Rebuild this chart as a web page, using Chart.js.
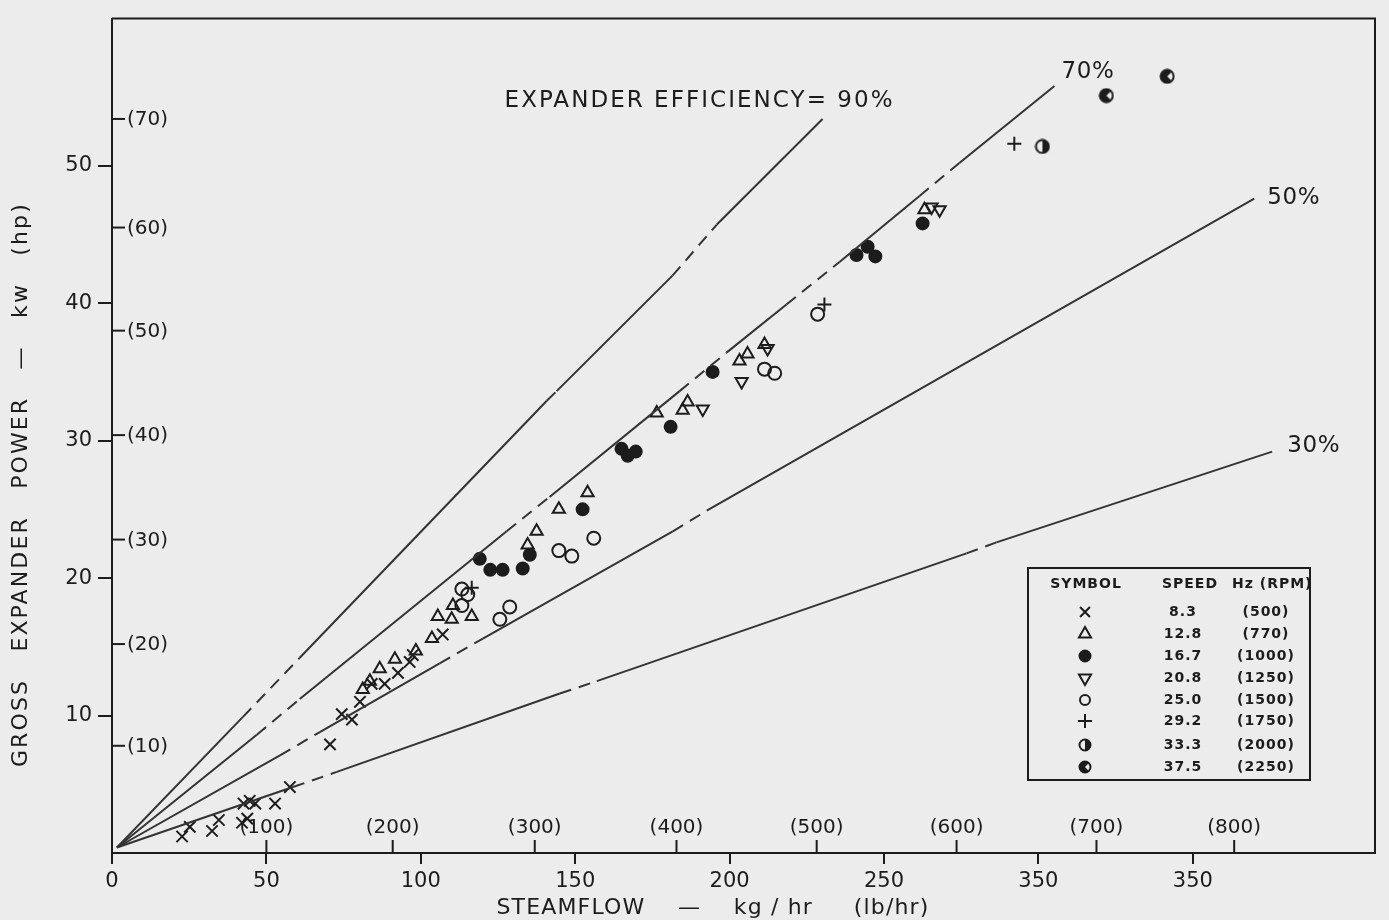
<!DOCTYPE html>
<html>
<head>
<meta charset="utf-8">
<title>Gross expander power vs steamflow</title>
<script src="https://cdn.jsdelivr.net/npm/chart.js@4.4.1/dist/chart.umd.min.js"></script>
<style>
  html, body { margin: 0; padding: 0; background: #ececec; }
  #wrap { width: 1389px; height: 920px; }
</style>
</head>
<body>
<div id="wrap"><canvas id="chart" width="1389" height="920"></canvas></div>
<script>
// --- valeurs ---
const kgTicks = [0, 50, 100, 150, 200, 250, 300, 350];
const kgTickLabels = ['0', '50', '100', '150', '200', '250', '350', '350']; // tel quel sur l'original
const kwTicks = [10, 20, 30, 40, 50];
const kwTickLabels = ['10', '20', '30', '40', '50'];
const hpTickLabels = ['(10)', '(20)', '(30)', '(40)', '(50)', '(60)', '(70)'];
const hpTickKw = [7.8, 15.2, 22.8, 30.4, 38.0, 45.5, 53.4];
const lbTickLabels = ['(100)', '(200)', '(300)', '(400)', '(500)', '(600)', '(700)', '(800)'];
const lbTickKg = [50, 90.9, 136.9, 182.8, 228.2, 273.5, 318.8, 363.4];

// droites de rendement (points de coupure des tirets)
const effNames = ['EXPANDER EFFICIENCY= 90%', '70%', '50%', '30%'];
const eff90 = [[1.6, 0.4], [42.4, 9.9], [60.8, 14.2], [140.8, 32.9], [144.0, 33.6], [181.5, 42.0], [195.8, 45.7], [230.1, 53.4]];
const eff70 = [[1.6, 0.4], [46.9, 8.6], [60.8, 11.2], [127.8, 23.4], [141.7, 25.9], [183.8, 33.6], [199.0, 36.4], [218.4, 39.9], [235.6, 43.0], [261.5, 47.8], [274.4, 50.2], [305.2, 55.8]];
const eff50 = [[1.6, 0.4], [54.4, 7.1], [67.3, 8.8], [106.1, 13.8], [120.1, 15.6], [181.6, 23.4], [192.6, 24.9], [369.9, 47.6]];
const eff30 = [[1.6, 0.4], [58.6, 4.8], [72.8, 5.9], [145.0, 11.6], [157.0, 12.5], [276.7, 21.8], [286.4, 22.6], [375.7, 29.2]];

// vitesses
const speedHz = ['8.3', '12.8', '16.7', '20.8', '25.0', '29.2', '33.3', '37.5'];
const speedRpm = ['(500)', '(770)', '(1000)', '(1250)', '(1500)', '(1750)', '(2000)', '(2250)'];

// mesures [steamflow kg/hr, puissance kW]
const pts83 = [[22.7, 1.2], [25.2, 1.9], [32.4, 1.6], [34.6, 2.4], [42.1, 2.2], [43.8, 2.5], [42.6, 3.6], [44.6, 3.8], [46.4, 3.6], [52.8, 3.6], [57.6, 4.8], [70.6, 7.9], [74.4, 10.1], [77.7, 9.7], [80.3, 11.0], [84.1, 12.3], [88.3, 12.3], [92.6, 13.1], [96.4, 13.9], [97.4, 14.4], [107.1, 15.9]];
const pts128 = [[81.2, 11.9], [83.5, 12.5], [86.7, 13.4], [91.6, 14.1], [98.4, 14.7], [103.6, 15.6], [105.5, 17.2], [110.0, 17.0], [110.4, 18.0], [116.5, 17.2], [134.6, 22.4], [137.5, 23.4], [144.7, 25.0], [154.0, 26.2], [176.4, 32.0], [184.8, 32.2], [186.4, 32.8], [203.2, 35.8], [205.8, 36.3], [211.3, 37.0], [263.1, 46.8]];
const pts167 = [[119.1, 21.4], [122.5, 20.6], [126.5, 20.6], [133.0, 20.7], [135.3, 21.7], [152.4, 25.0], [165.0, 29.4], [167.0, 28.9], [169.6, 29.2], [180.9, 31.0], [194.5, 35.0], [241.1, 43.5], [244.7, 44.1], [247.2, 43.4], [262.5, 45.8]];
const pts208 = [[191.3, 32.3], [203.9, 34.3], [212.3, 36.7], [265.4, 47.0], [268.0, 46.8]];
const pts250 = [[113.3, 19.2], [115.2, 18.8], [113.3, 18.0], [125.6, 17.0], [128.8, 17.9], [144.7, 22.0], [148.9, 21.6], [156.0, 22.9], [211.3, 35.2], [214.6, 34.9], [228.5, 39.2]];
const pts292 = [[116.5, 19.3], [230.7, 39.9], [292.2, 51.6]];
const pts333 = [[301.3, 51.4]];
const pts375 = [[322.0, 55.1], [341.7, 56.5]];

const INK = '#1c1c1c';
const FONT = '"DejaVu Sans", "Liberation Sans", sans-serif';

// symboles demi-plein / trois-quarts plein
function makeMarker(kind, size) {
    const c = document.createElement('canvas');
    c.width = size; c.height = size;
    const g = c.getContext('2d');
    const m = size / 2, r = size / 2 - 1.5;
    g.strokeStyle = INK; g.fillStyle = INK; g.lineWidth = 2;
    g.beginPath(); g.arc(m, m, r, 0, Math.PI * 2); g.stroke();
    g.beginPath(); g.moveTo(m, m);
    if (kind === 'half') {
        g.arc(m, m, r, -Math.PI / 2, Math.PI / 2);
    } else {
        g.arc(m, m, r, Math.PI / 4, Math.PI * 7 / 4);
    }
    g.closePath(); g.fill();
    return c;
}

const halfMark = makeMarker('half', 16);
const threeMark = makeMarker('three', 16);
const halfMarkSmall = makeMarker('half', 14);
const threeMarkSmall = makeMarker('three', 14);

const toXY = arr => arr.map(p => ({ x: p[0], y: p[1] }));

// styles des symboles (ordre = speedHz)
const markStyles = [
    { pointStyle: 'crossRot', rotation: 0, radius: 8, fill: INK },
    { pointStyle: 'triangle', rotation: 0, radius: 7, fill: 'rgba(0,0,0,0)' },
    { pointStyle: 'circle', rotation: 0, radius: 6, fill: INK },
    { pointStyle: 'triangle', rotation: 180, radius: 7, fill: 'rgba(0,0,0,0)' },
    { pointStyle: 'circle', rotation: 0, radius: 6.5, fill: 'rgba(0,0,0,0)' },
    { pointStyle: 'cross', rotation: 0, radius: 7, fill: INK },
    { pointStyle: halfMark, rotation: 0, radius: 7, fill: INK },
    { pointStyle: threeMark, rotation: 0, radius: 7, fill: INK }
];
const legendStyles = [
    { pointStyle: 'crossRot', rotation: 0, radius: 7, fill: INK },
    { pointStyle: 'triangle', rotation: 0, radius: 7, fill: 'rgba(0,0,0,0)' },
    { pointStyle: 'circle', rotation: 0, radius: 5.5, fill: INK },
    { pointStyle: 'triangle', rotation: 180, radius: 7, fill: 'rgba(0,0,0,0)' },
    { pointStyle: 'circle', rotation: 0, radius: 5, fill: 'rgba(0,0,0,0)' },
    { pointStyle: 'cross', rotation: 0, radius: 7, fill: INK },
    { pointStyle: halfMarkSmall, rotation: 0, radius: 6, fill: INK },
    { pointStyle: threeMarkSmall, rotation: 0, radius: 6, fill: INK }
];

const pointSets = [pts83, pts128, pts167, pts208, pts250, pts292, pts333, pts375];

const lineSets = [eff90, eff70, eff50, eff30];
const lineDatasets = lineSets.map((pts, i) => ({
    type: 'line',
    label: effNames[i],
    data: toXY(pts),
    borderColor: '#333',
    borderWidth: 2,
    pointRadius: 0,
    fill: false,
    tension: 0,
    segment: {
        // les tronçons impairs sont en tirets
        borderDash: ctx => (ctx.p0DataIndex % 2 === 1 ? [12, 8] : undefined)
    }
}));

const pointDatasets = pointSets.map((pts, i) => ({
    type: 'scatter',
    label: speedHz[i] + ' ' + speedRpm[i],
    data: toXY(pts),
    pointStyle: markStyles[i].pointStyle,
    rotation: markStyles[i].rotation,
    pointRadius: markStyles[i].radius,
    pointBackgroundColor: markStyles[i].fill,
    pointBorderColor: INK,
    pointBorderWidth: 2
}));

// texte étiré à une largeur donnée
function spacedText(ctx, text, x, y, width, align) {
    ctx.letterSpacing = '0px';
    const n = [...text].length;
    const w0 = ctx.measureText(text).width;
    const ls = width ? Math.max(0, (width - w0) / n) : 0;
    ctx.letterSpacing = ls + 'px';
    ctx.textAlign = align;
    ctx.fillText(text, x, y);
    ctx.letterSpacing = '0px';
}

// position des étiquettes de rendement par rapport au bout de chaque droite
const effLabelOffsets = [
    { dx: 72, dy: -18, align: 'right', width: 390 },
    { dx: 7, dy: -14, align: 'left', width: 53 },
    { dx: 13, dy: -1, align: 'left', width: 53 },
    { dx: 15, dy: -6, align: 'left', width: 53 }
];

const decorPlugin = {
    id: 'decor',
    beforeDraw(chart) {
        const ctx = chart.ctx;
        ctx.save();
        ctx.fillStyle = '#ececec';
        ctx.fillRect(0, 0, chart.width, chart.height);
        ctx.restore();
    },
    afterDraw(chart) {
        const ctx = chart.ctx;
        const a = chart.chartArea;
        const xs = chart.scales.x, ys = chart.scales.y;
        ctx.save();
        ctx.strokeStyle = INK;
        ctx.fillStyle = INK;
        ctx.lineWidth = 2;

        // cadre haut et droit
        ctx.beginPath();
        ctx.moveTo(a.left, a.top);
        ctx.lineTo(a.right, a.top);
        ctx.lineTo(a.right, a.bottom);
        ctx.stroke();

        // graduations en hp (intérieures)
        ctx.font = '20px ' + FONT;
        ctx.textBaseline = 'middle';
        hpTickKw.forEach((v, i) => {
            const py = ys.getPixelForValue(v);
            ctx.beginPath();
            ctx.moveTo(a.left, py);
            ctx.lineTo(a.left + 13, py);
            ctx.stroke();
            ctx.textAlign = 'left';
            ctx.fillText(hpTickLabels[i], a.left + 15, py + 1);
        });

        // graduations en lb/hr (intérieures)
        lbTickKg.forEach((v, i) => {
            const px = xs.getPixelForValue(v);
            ctx.beginPath();
            ctx.moveTo(px, a.bottom);
            ctx.lineTo(px, a.bottom - 13);
            ctx.stroke();
            ctx.textAlign = 'center';
            ctx.fillText(lbTickLabels[i], px, a.bottom - 25);
        });

        // étiquettes des droites de rendement
        ctx.font = '23px ' + FONT;
        lineSets.forEach((pts, i) => {
            const meta = chart.getDatasetMeta(i);
            const end = meta.data[meta.data.length - 1];
            const o = effLabelOffsets[i];
            spacedText(ctx, effNames[i], end.x + o.dx, end.y + o.dy, o.width, o.align);
        });

        // titres des axes
        ctx.font = '22px ' + FONT;
        spacedText(ctx, 'STEAMFLOW    —    kg / hr     (lb/hr)', a.left + 601, a.bottom + 55, 433, 'center');
        ctx.save();
        ctx.translate(a.left - 91, a.top + 466);
        ctx.rotate(-Math.PI / 2);
        spacedText(ctx, 'GROSS   EXPANDER   POWER   —   kw   (hp)', 0, 0, 565, 'center');
        ctx.restore();

        // tableau des symboles
        const bx = a.right - 347, by = a.bottom - 285, bw = 282, bh = 212;
        ctx.lineWidth = 2;
        ctx.strokeRect(bx, by, bw, bh);
        ctx.font = 'bold 14px ' + FONT;
        ctx.letterSpacing = '1px';
        ctx.textAlign = 'center';
        ctx.fillText('SYMBOL', bx + 58, by + 16);
        ctx.fillText('SPEED', bx + 162, by + 16);
        ctx.textAlign = 'left';
        ctx.fillText('Hz (RPM)', bx + 204, by + 16);
        const rowY = [44, 66, 88, 110, 132, 153, 177, 199];
        speedHz.forEach((hz, i) => {
            const y = by + rowY[i];
            const s = legendStyles[i];
            ctx.fillStyle = s.fill;
            ctx.strokeStyle = INK;
            ctx.lineWidth = 2;
            Chart.helpers.drawPoint(ctx, { pointStyle: s.pointStyle, rotation: s.rotation, radius: s.radius, borderWidth: 2 }, bx + 57, y);
            ctx.fillStyle = INK;
            ctx.textAlign = 'center';
            ctx.fillText(hz, bx + 155, y);
            ctx.fillText(speedRpm[i], bx + 238, y);
        });
        ctx.letterSpacing = '0px';
        ctx.restore();
    }
};

new Chart(document.getElementById('chart'), {
    type: 'scatter',
    data: { datasets: [...lineDatasets, ...pointDatasets] },
    options: {
        responsive: false,
        animation: false,
        devicePixelRatio: 1,
        layout: { padding: { left: 0, right: 14, top: 12, bottom: 0 } },
        plugins: {
            legend: { display: false },
            tooltip: { enabled: false },
            title: { display: false }
        },
        scales: {
            x: {
                type: 'linear',
                min: 0,
                max: 409,
                afterBuildTicks: s => { s.ticks = kgTicks.map(v => ({ value: v })); },
                afterFit: s => { s.height = 67; },
                ticks: {
                    autoSkip: false,
                    maxRotation: 0,
                    padding: 5,
                    color: INK,
                    font: { family: FONT, size: 21 },
                    callback: (v, i) => kgTickLabels[i]
                },
                grid: { display: true, drawOnChartArea: false, drawTicks: true, tickLength: 11, color: INK, lineWidth: 2 },
                border: { display: true, color: INK, width: 2 }
            },
            y: {
                type: 'linear',
                min: 0,
                max: 60.7,
                afterBuildTicks: s => { s.ticks = kwTicks.map(v => ({ value: v })); },
                afterFit: s => { s.width = 112; },
                ticks: {
                    padding: 6,
                    color: INK,
                    font: { family: FONT, size: 21 },
                    callback: (v, i) => kwTickLabels[i]
                },
                grid: { display: true, drawOnChartArea: false, drawTicks: true, tickLength: 14, color: INK, lineWidth: 2 },
                border: { display: true, color: INK, width: 2 }
            }
        }
    },
    plugins: [decorPlugin]
});
</script>
</body>
</html>
